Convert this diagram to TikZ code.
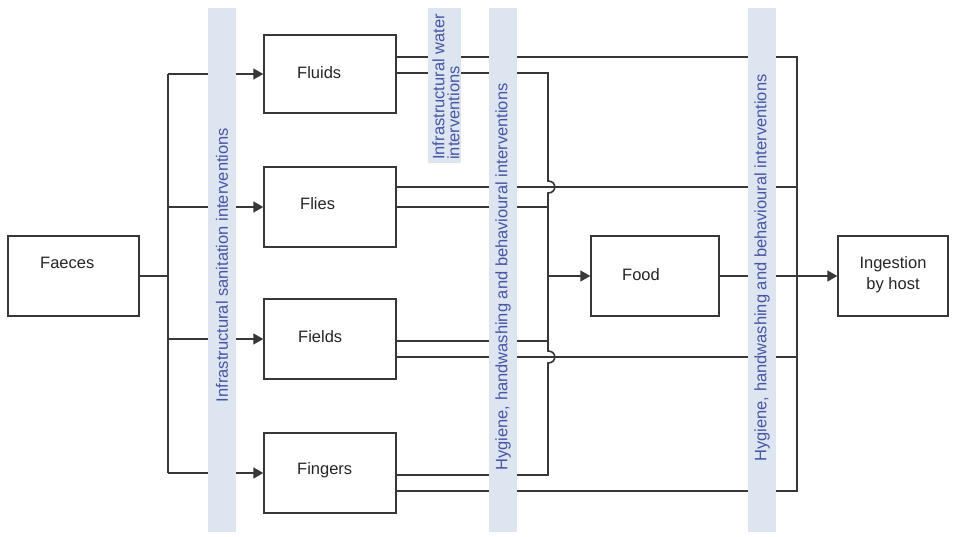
\documentclass[tikz,border=0pt]{standalone}
\usepackage{fontspec}
\setmainfont{Liberation Sans}
\usetikzlibrary{arrows.meta,calc}
\definecolor{barblue}{RGB}{221,229,241}
\definecolor{bartext}{RGB}{72,84,165}
\definecolor{linec}{RGB}{55,55,55}
\begin{document}
\begin{tikzpicture}[x=1pt,y=-1pt,
  font=\fontsize{16.5}{21}\selectfont,
  box/.style={draw=linec, line width=1.4pt, inner sep=0pt},
  conn/.style={draw=linec, line width=1.6pt},
  arr/.style={conn, -{Triangle[length=10pt,width=11pt]}},
  bar/.style={fill=barblue, draw=none, inner sep=0pt},
  bartxt/.style={text=bartext, rotate=90, inner sep=0pt},
  lbl/.style={anchor=west, text=black!85, inner sep=0pt}]
\useasboundingbox (0,0) rectangle (958,536);
\fill[white] (0,0) rectangle (958,536);

% boxes
\node[box, minimum width=131pt, minimum height=80pt] (faeces) at (73.5,276) {};
\node[box, minimum width=132pt, minimum height=78pt] (fluids) at (330,74) {};
\node[box, minimum width=132pt, minimum height=80pt] (flies) at (330,207) {};
\node[box, minimum width=132pt, minimum height=80pt] (fields) at (330,339) {};
\node[box, minimum width=132pt, minimum height=80pt] (fingers) at (330,473) {};
\node[box, minimum width=128pt, minimum height=80pt] (food) at (655,276) {};
\node[box, minimum width=110pt, minimum height=80pt] (ingest) at (893,276) {};

% box labels
\node[lbl] (tfaeces) at (40,263) {Faeces};
\node[lbl] (tfluids) at (297,73) {Fluids};
\node[lbl] (tflies) at (300,204) {Flies};
\node[lbl] (tfields) at (298,337) {Fields};
\node[lbl] (tfingers) at (297,470) {Fingers};
\node[lbl] (tfood) at (622,275) {Food};
\node[align=center, text=black!85, inner sep=0pt] (tingest) at (893,275) {Ingestion\\by host};

% helper coordinates
\coordinate (tk) at (168,0);
\coordinate (fv) at (548,0);
\coordinate (rv) at (797,0);
\coordinate (a1) at (0,57);
\coordinate (a2) at (0,73);
\coordinate (b1) at (0,187);
\coordinate (b2) at (0,207);
\coordinate (c1) at (0,341);
\coordinate (c2) at (0,357);
\coordinate (d1) at (0,475);
\coordinate (d2) at (0,491);

% left distribution
\draw[conn] (faeces.east) -- (faeces.east -| tk);
\draw[conn] (fluids.west -| tk) -- (fingers.west -| tk);
\foreach \b in {fluids,flies,fields,fingers}
  \draw[arr] (\b.west -| tk) -- (\b.west);

% routes to ingestion
\draw[conn] (fluids.east |- a1) -- (rv |- a1) -- (rv |- d2) -- (fingers.east |- d2);
\draw[conn] (flies.east |- b1) -- (rv |- b1);
\draw[conn] (fields.east |- c2) -- (rv |- c2);

% routes to food
\draw[conn] (fluids.east |- a2) -- (fv |- a2)
  -- ($(fv |- b1)+(0,-6)$) .. controls +(9,0) and +(9,0) .. ($(fv |- b1)+(0,6)$)
  -- ($(fv |- c2)+(0,-6)$) .. controls +(9,0) and +(9,0) .. ($(fv |- c2)+(0,6)$)
  -- (fv |- d1) -- (fingers.east |- d1);
\draw[conn] (flies.east |- b2) -- (fv |- b2);
\draw[conn] (fields.east |- c1) -- (fv |- c1);
\draw[arr] (fv |- food.west) -- (food.west);
\draw[arr] (food.east) -- (ingest.west);

% intervention bars
\node[bar, minimum width=28pt, minimum height=524pt] (bar1) at (222,270) {};
\node[bar, minimum width=33pt, minimum height=155pt] (bar2) at (444.5,85.5) {};
\node[bar, minimum width=28pt, minimum height=524pt] (bar3) at (503,270) {};
\node[bar, minimum width=28pt, minimum height=524pt] (bar4) at (762,270) {};

\node[bartxt] (t1) at (222,265) {Infrastructural sanitation interventions};
\node[bartxt, align=left, anchor=west, font=\fontsize{16.5}{15}\selectfont] (t2) at (446,160) {Infrastructural water\\interventions};
\node[bartxt] (t3) at (503,277) {Hygiene, handwashing and behavioural interventions};
\node[bartxt] (t4) at (762,268) {Hygiene, handwashing and behavioural interventions};
\end{tikzpicture}
\end{document}
